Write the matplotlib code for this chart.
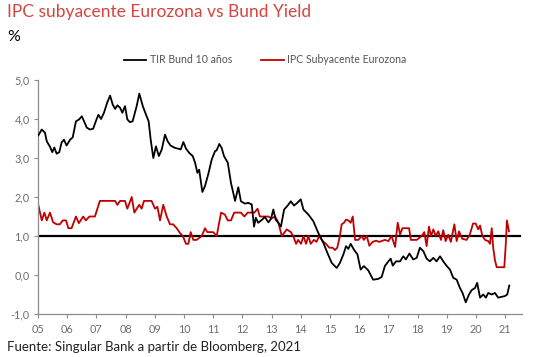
import matplotlib
matplotlib.use('Agg')
import matplotlib.pyplot as plt

# TIR Bund 10 años (fecha decimal, valor %)
bund_t = [2005.01, 2005.13, 2005.24, 2005.30, 2005.41, 2005.49, 2005.56, 2005.64, 2005.73, 2005.81,
          2005.89, 2005.98, 2006.10, 2006.19, 2006.30, 2006.41, 2006.50, 2006.58, 2006.67, 2006.78,
          2006.89, 2006.99, 2007.07, 2007.16, 2007.26, 2007.37, 2007.47, 2007.56, 2007.64, 2007.72,
          2007.81, 2007.89, 2007.98, 2008.06, 2008.15, 2008.24, 2008.38, 2008.47, 2008.59, 2008.70,
          2008.79, 2008.86, 2008.95, 2009.04, 2009.14, 2009.24, 2009.35, 2009.44, 2009.54, 2009.69,
          2009.80, 2009.89, 2009.98, 2010.07, 2010.18, 2010.30, 2010.38, 2010.46, 2010.52, 2010.63,
          2010.72, 2010.83, 2010.95, 2011.06, 2011.12, 2011.21, 2011.29, 2011.37, 2011.50, 2011.61,
          2011.75, 2011.86, 2011.95, 2012.09, 2012.20, 2012.32, 2012.40, 2012.46, 2012.54, 2012.68,
          2012.77, 2012.89, 2012.98, 2013.06, 2013.14, 2013.23, 2013.32, 2013.43, 2013.55, 2013.66,
          2013.77, 2013.88, 2014.00, 2014.09, 2014.26, 2014.43, 2014.60, 2014.77, 2014.91, 2015.06,
          2015.23, 2015.34, 2015.46, 2015.55, 2015.63, 2015.71, 2015.82, 2015.94, 2016.05, 2016.16,
          2016.31, 2016.48, 2016.65, 2016.77, 2016.88, 2017.00, 2017.08, 2017.15, 2017.26, 2017.40,
          2017.51, 2017.60, 2017.72, 2017.85, 2017.97, 2018.08, 2018.20, 2018.31, 2018.42, 2018.54,
          2018.65, 2018.77, 2018.88, 2019.00, 2019.11, 2019.22, 2019.34, 2019.45, 2019.54, 2019.65,
          2019.76, 2019.85, 2019.97, 2020.04, 2020.14, 2020.25, 2020.34, 2020.42, 2020.54, 2020.65,
          2020.76, 2020.88, 2020.99, 2021.07, 2021.14]
bund_v = [3.58, 3.73, 3.65, 3.43, 3.29, 3.15, 3.27, 3.11, 3.15, 3.40,
          3.47, 3.32, 3.47, 3.53, 3.94, 3.99, 4.07, 3.94, 3.78, 3.73,
          3.75, 3.96, 4.11, 4.00, 4.16, 4.42, 4.60, 4.37, 4.26, 4.35,
          4.29, 4.16, 4.33, 3.99, 3.92, 3.94, 4.33, 4.65, 4.33, 4.11,
          3.94, 3.47, 3.00, 3.30, 3.05, 3.22, 3.60, 3.43, 3.32, 3.26,
          3.24, 3.22, 3.41, 3.24, 3.13, 3.05, 2.88, 2.62, 2.70, 2.13,
          2.28, 2.58, 2.96, 3.17, 3.20, 3.36, 3.26, 3.05, 2.88, 2.36,
          1.90, 2.25, 1.89, 1.83, 1.85, 1.81, 1.24, 1.47, 1.34, 1.42,
          1.49, 1.35, 1.44, 1.68, 1.42, 1.34, 1.24, 1.68, 1.78, 1.89,
          1.78, 1.85, 1.94, 1.68, 1.55, 1.38, 1.08, 0.83, 0.57, 0.31,
          0.18, 0.31, 0.53, 0.74, 0.67, 0.80, 0.65, 0.53, 0.14, 0.23,
          0.12, -0.12, -0.10, -0.05, 0.23, 0.35, 0.42, 0.24, 0.35, 0.35,
          0.48, 0.40, 0.55, 0.40, 0.44, 0.70, 0.61, 0.42, 0.35, 0.44,
          0.35, 0.48, 0.35, 0.23, 0.14, -0.07, -0.12, -0.33, -0.46, -0.70,
          -0.50, -0.39, -0.33, -0.20, -0.58, -0.50, -0.58, -0.46, -0.50, -0.46,
          -0.58, -0.56, -0.54, -0.50, -0.27]

# IPC subyacente Eurozona (fecha decimal, valor %)
ipc_t = [2005.01, 2005.13, 2005.22, 2005.30, 2005.41, 2005.52, 2005.64, 2005.75, 2005.85, 2005.96,
         2006.04, 2006.15, 2006.30, 2006.40, 2006.55, 2006.64, 2006.76, 2006.95, 2007.12, 2007.64,
         2007.72, 2007.81, 2007.98, 2008.06, 2008.21, 2008.30, 2008.38, 2008.47, 2008.55, 2008.63,
         2008.89, 2009.01, 2009.09, 2009.18, 2009.29, 2009.41, 2009.52, 2009.63, 2009.75, 2009.86,
         2009.96, 2010.07, 2010.15, 2010.23, 2010.32, 2010.43, 2010.61, 2010.72, 2010.80, 2011.00,
         2011.12, 2011.27, 2011.40, 2011.50, 2011.61, 2011.72, 2011.95, 2012.07, 2012.18, 2012.41,
         2012.52, 2012.60, 2012.89, 2013.00, 2013.12, 2013.23, 2013.35, 2013.52, 2013.66, 2013.74,
         2013.84, 2013.91, 2014.01, 2014.09, 2014.18, 2014.26, 2014.34, 2014.45, 2014.54, 2014.63,
         2014.75, 2014.86, 2014.98, 2015.09, 2015.17, 2015.25, 2015.34, 2015.40, 2015.48, 2015.55,
         2015.63, 2015.71, 2015.78, 2015.86, 2015.97, 2016.09, 2016.16, 2016.26, 2016.35, 2016.46,
         2016.58, 2016.69, 2016.88, 2017.00, 2017.11, 2017.23, 2017.32, 2017.40, 2017.48, 2017.71,
         2017.77, 2017.97, 2018.14, 2018.23, 2018.31, 2018.39, 2018.46, 2018.54, 2018.62, 2018.71,
         2018.80, 2018.88, 2018.96, 2019.05, 2019.14, 2019.26, 2019.34, 2019.42, 2019.53, 2019.68,
         2019.79, 2019.90, 2019.99, 2020.08, 2020.14, 2020.22, 2020.31, 2020.42, 2020.48, 2020.54,
         2020.59, 2020.65, 2020.71, 2020.97, 2021.02, 2021.06, 2021.13]
ipc_v = [1.8, 1.4, 1.6, 1.4, 1.6, 1.35, 1.3, 1.3, 1.4, 1.4,
         1.2, 1.2, 1.5, 1.33, 1.5, 1.4, 1.5, 1.5, 1.9, 1.9,
         1.8, 1.9, 1.9, 1.7, 2.0, 1.6, 1.7, 1.8, 1.7, 1.9,
         1.9, 1.7, 1.75, 1.4, 1.8, 1.5, 1.3, 1.3, 1.2, 1.08,
         1.0, 0.8, 0.8, 1.1, 0.9, 0.9, 1.0, 1.2, 1.1, 1.1,
         1.0, 1.6, 1.55, 1.4, 1.4, 1.6, 1.6, 1.5, 1.6, 1.6,
         1.7, 1.5, 1.5, 1.45, 1.5, 1.35, 1.0, 1.17, 1.1, 1.0,
         0.8, 0.9, 0.8, 1.0, 0.8, 1.0, 0.8, 0.9, 0.85, 1.0,
         0.87, 0.8, 0.7, 0.7, 0.64, 0.7, 1.0, 1.3, 1.34, 1.42,
         1.4, 1.34, 1.5, 0.9, 0.9, 1.0, 0.9, 1.0, 0.75, 0.85,
         0.88, 0.85, 0.9, 0.87, 1.0, 0.72, 1.34, 1.04, 1.2, 1.2,
         0.9, 0.9, 1.0, 1.1, 0.74, 1.24, 1.0, 1.17, 1.0, 1.12,
         0.9, 1.15, 0.87, 1.03, 0.85, 1.3, 0.87, 1.12, 0.93, 0.9,
         1.04, 1.32, 1.32, 1.17, 1.27, 1.0, 0.9, 0.87, 0.8, 1.2,
         0.7, 0.38, 0.2, 0.2, 0.78, 1.4, 1.12]

xtick_pos = list(range(2005, 2022))
xtick_lab = ['05', '06', '07', '08', '09', '10', '11', '12', '13', '14', '15', '16', '17', '18', '19', '20', '21']
ytick_pos = [-1, 0, 1, 2, 3, 4, 5]
ytick_lab = ['-1,0', '0,0', '1,0', '2,0', '3,0', '4,0', '5,0']

plt.rcParams['font.family'] = ['Lato', 'DejaVu Sans']

fig = plt.figure(figsize=(5.41, 3.57), dpi=100)
ax = fig.add_axes([0.0702, 0.1204, 0.8946, 0.6555])

red = '#c00000'
gray = '#8c8c8c'

ax.axhline(1.0, xmin=0, xmax=0.995, color='black', lw=1.6, zorder=1)
ax.plot(bund_t, bund_v, color='black', lw=1.3, label='TIR Bund 10 años', zorder=3)
ax.plot(ipc_t, ipc_v, color=red, lw=1.3, label='IPC Subyacente Eurozona', zorder=2)

ax.set_xlim(2005, 2021.575)
ax.set_ylim(-1, 5)
ax.set_xticks(xtick_pos)
ax.set_xticklabels(xtick_lab)
ax.set_yticks(ytick_pos)
ax.set_yticklabels(ytick_lab)

for s in ['top', 'right']:
    ax.spines[s].set_visible(False)
for s in ['left', 'bottom']:
    ax.spines[s].set_color(gray)
    ax.spines[s].set_linewidth(0.9)
ax.tick_params(axis='both', colors=gray, labelcolor='#6e6e6e', labelsize=7.8,
               length=3, width=0.8, direction='out')
ax.tick_params(axis='y', pad=3)
ax.tick_params(axis='x', pad=4)

fig.legend(loc='center', bbox_to_anchor=(0.49, 0.832), ncol=2, frameon=False,
           fontsize=7.6, handlelength=2.1, handletextpad=0.3, columnspacing=2.8,
           labelcolor='#555555')

fig.text(0.013, 0.988, 'IPC subyacente Eurozona vs Bund Yield', color='#d6453d',
         fontsize=12.5, va='top', ha='left')
fig.text(0.013, 0.915, '%', color='black', fontsize=11.5, va='top', ha='left')
fig.text(0.013, 0.028, 'Fuente: Singular Bank a partir de Bloomberg, 2021', color='#222222',
         fontsize=9.5, va='center', ha='left')

fig.savefig('out.png', dpi=100)
